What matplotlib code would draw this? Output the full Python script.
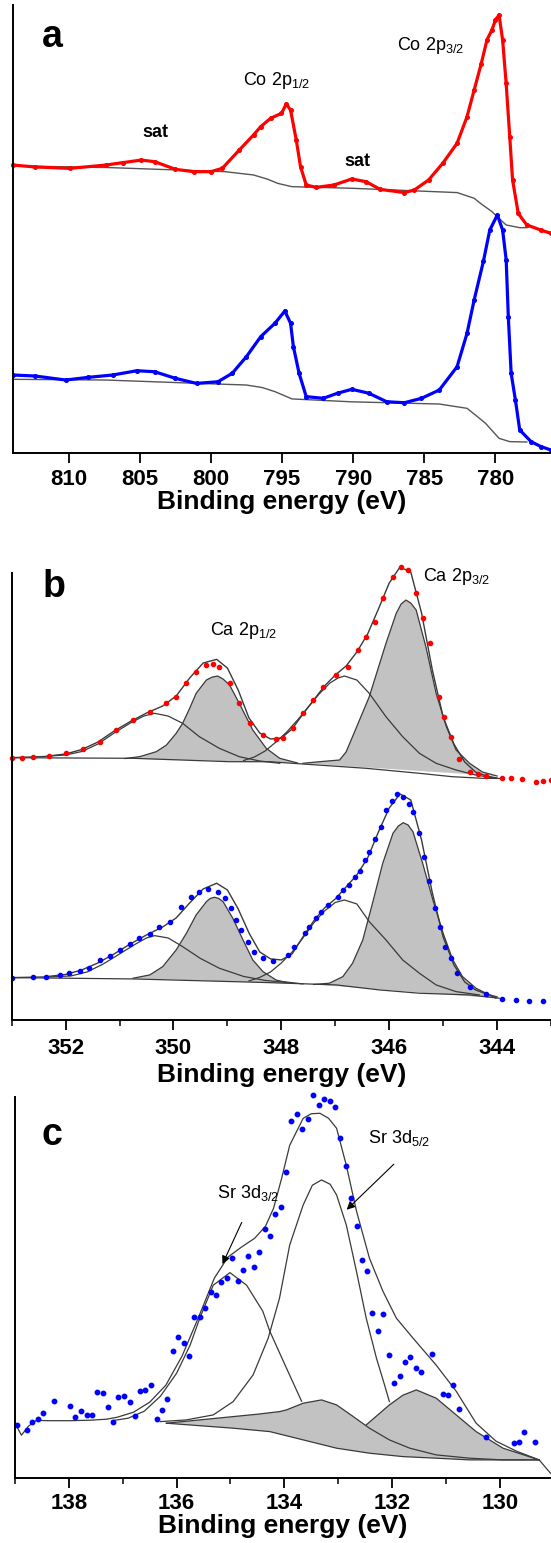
import matplotlib
matplotlib.use('Agg')
import matplotlib.pyplot as plt
from matplotlib.ticker import MultipleLocator
import numpy as np

plt.rcParams['font.family'] = ['Liberation Sans', 'DejaVu Sans']
plt.rcParams['mathtext.fontset'] = 'custom'
plt.rcParams['mathtext.rm'] = 'Liberation Sans'
plt.rcParams['mathtext.it'] = 'Liberation Sans:italic'
plt.rcParams['mathtext.bf'] = 'Liberation Sans:bold'

# ---------------- panel a : Co 2p (intensity in arbitrary units) ----------------
co_red_be = [813.9, 812.35, 809.9, 807.4, 806.2, 804.9, 803.95, 802.5, 801.2, 800.0,
             799.2, 798.0, 797.0, 796.5, 795.8, 795.04, 794.7, 794.4, 794.0, 793.7,
             793.3, 792.6, 791.35, 790.1, 789.1, 788.1, 786.4, 785.7, 784.7, 783.7,
             782.7, 782.0, 781.5, 781.0, 780.6, 780.25, 780.0, 779.75, 779.5, 779.25,
             779.0, 778.8, 778.4, 777.8, 776.8, 776.1]
co_red_int = [288.2, 286.3, 284.9, 288.2, 290.6, 293.2, 291.6, 284.0, 281.6, 281.6,
              284.9, 303.3, 318.3, 326.6, 335.0, 339.9, 349.3, 343.2, 313.3, 286.6,
              268.3, 265.9, 268.3, 274.3, 271.6, 263.9, 260.7, 263.3, 273.3, 290.1,
              310.0, 336.6, 363.2, 389.7, 413.3, 423.3, 433.4, 438.3, 413.3, 369.8,
              316.7, 273.3, 239.8, 228.3, 223.2, 219.9]
co_red_bg_be = [813.9, 807.2, 799.0, 797.0, 796.0, 795.3, 794.3, 790.1, 782.7, 781.5,
                781.0, 780.25, 779.7, 779.25, 778.3, 777.8]
co_red_bg_int = [287.3, 285.7, 281.6, 278.3, 274.0, 269.9, 266.6, 265.0, 260.7, 255.0,
                 249.3, 241.7, 234.1, 228.3, 225.6, 225.6]

co_blue_be = [813.9, 812.35, 810.2, 808.6, 806.9, 805.2, 803.95, 802.5, 801.0, 799.5,
              798.5, 797.5, 796.5, 795.5, 794.8, 794.4, 794.2, 793.8, 793.3, 792.1,
              791.1, 790.1, 788.9, 787.65, 786.4, 785.2, 783.95, 782.7, 782.0, 781.5,
              780.85, 780.4, 779.87, 779.5, 779.25, 779.1, 778.9, 778.6, 778.3, 777.5,
              776.8, 776.1]
co_blue_int = [78.3, 77.3, 73.3, 76.0, 78.3, 82.6, 81.6, 75.0, 69.9, 71.6,
               80.0, 96.7, 116.6, 130.0, 142.3, 130.0, 106.6, 80.0, 56.7, 55.0,
               60.1, 64.0, 60.1, 51.6, 50.6, 55.0, 63.3, 86.6, 120.0, 153.3,
               192.0, 223.3, 238.3, 223.3, 193.4, 136.6, 80.0, 53.3, 23.4, 11.7,
               6.7, 3.3]
co_blue_bg_be = [813.9, 807.4, 800.8, 797.5, 796.4, 795.5, 794.3, 790.1, 783.95, 782.0,
                 781.4, 780.7, 779.75, 779.0, 777.8]
co_blue_bg_int = [74.0, 73.3, 69.9, 68.3, 65.8, 61.7, 54.4, 51.5, 49.3, 45.0,
                  38.2, 30.0, 15.0, 11.7, 11.3]

# ---------------- panel b : Ca 2p ----------------
ca_red_be = [353.0, 352.8, 352.6, 352.3, 351.99, 351.68, 351.37, 351.06, 350.75, 350.44,
             350.13, 349.95, 349.76, 349.58, 349.39, 349.27, 349.15, 348.96, 348.78, 348.59,
             348.34, 348.1, 347.97, 347.79, 347.6, 347.42, 347.23, 346.98, 346.77, 346.58,
             346.43, 346.27, 346.12, 345.93, 345.78, 345.66, 345.5, 345.38, 345.25, 345.07,
             344.98, 344.85, 344.7, 344.51, 344.35, 344.2, 343.9, 343.75, 343.53, 343.28,
             343.15, 343.0]
ca_red_int = [262.3, 262.5, 263, 264, 266.7, 271, 278.3, 290, 300, 308.3,
              316.7, 323.3, 336.7, 348.3, 355, 356, 352.7, 336.7, 316.7, 296.7,
              285, 281, 282.3, 291.7, 306.7, 320, 333.3, 345, 353.3, 370,
              383.3, 398.3, 421.7, 443.3, 452.7, 450, 426.7, 401.7, 376.7, 323.3,
              303.3, 283.3, 261, 248.3, 246, 244, 241.7, 241.5, 241, 238.3,
              239, 240]
ca_red_env_be = [353.0, 352.4, 352.0, 351.7, 351.4, 351.1, 350.8, 350.5, 350.2, 349.95,
                 349.7, 349.45, 349.2, 349.0, 348.8, 348.6, 348.4, 348.2, 348.0, 347.8,
                 347.6, 347.4, 347.2, 347.0, 346.8, 346.6, 346.4, 346.2, 346.0, 345.8,
                 345.6, 345.4, 345.2, 345.0, 344.8, 344.6, 344.4, 344.2, 344.0]
ca_red_env_int = [262.3, 263.5, 266, 270.5, 278, 289, 298.5, 307, 314, 324,
                  342, 357, 360.7, 352, 330, 302, 287, 281, 282, 291,
                  306, 320, 334, 345, 354, 368, 386, 411, 437, 453,
                  448, 407, 350, 303, 276, 258, 248, 244, 242]
ca_red_bg_be = [353.0, 350.75, 348.96, 348.22, 347.6, 346.43, 345.44, 344.83, 344.27, 343.9]
ca_red_bg_int = [262.3, 261.7, 258.3, 258.3, 256, 251.7, 246.7, 243.3, 241.7, 241.5]
ca_red_p1_be = [352.3, 352.0, 351.7, 351.4, 351.1, 350.8, 350.55, 350.35, 350.1, 349.83,
                349.52, 349.15, 348.78, 348.4, 348.03]
ca_red_p1_int = [264, 265, 268.5, 276, 287, 297, 304, 306.7, 304, 296.7,
                 283.3, 271.7, 263.3, 259, 256.7]
ca_red_p2_be = [350.9, 350.63, 350.32, 350.13, 349.95, 349.83, 349.7, 349.58, 349.39, 349.28,
                349.18, 349.08, 348.96, 348.78, 348.53, 348.28, 348.03, 347.7]
ca_red_p2_int = [261.5, 263.3, 268.3, 275, 286.7, 296.7, 311.7, 326.7, 340, 343,
                 344, 341, 335, 316.7, 290, 271.7, 261.7, 257]
ca_red_p3_be = [348.7, 348.5, 348.3, 348.1, 347.9, 347.7, 347.5, 347.3, 347.1, 346.95,
                346.83, 346.6, 346.37, 346.06, 345.75, 345.44, 345.13, 344.76, 344.4, 344.1]
ca_red_p3_int = [259.5, 263, 269, 278, 288, 300, 313, 326, 337, 342,
                 344, 340, 326.7, 303.3, 283.3, 266.7, 256.7, 250, 245, 242.5]
ca_red_p4_be = [347.6, 347.29, 346.92, 346.8, 346.68, 346.37, 346.06, 345.87, 345.78, 345.69,
                345.6, 345.5, 345.32, 345.13, 344.94, 344.76, 344.51, 344.27, 344.0]
ca_red_p4_int = [256.7, 258.3, 260, 268, 283.3, 323.3, 376.7, 406.7, 416, 420,
                 417, 410, 373.3, 326.7, 293.3, 270, 256.7, 248, 244]

ca_blue_be = [353.0, 352.6, 352.36, 352.11, 351.93, 351.74, 351.56, 351.37, 351.18, 351.0,
              350.81, 350.63, 350.44, 350.26, 350.07, 349.86, 349.67, 349.52, 349.36, 349.18,
              349.05, 348.93, 348.84, 348.74, 348.62, 348.5, 348.34, 348.16, 347.88, 347.76,
              347.57, 347.48, 347.35, 347.26, 347.14, 346.95, 346.86, 346.75, 346.64, 346.55,
              346.45, 346.37, 346.26, 346.15, 346.06, 345.95, 345.85, 345.75, 345.64, 345.55,
              345.45, 345.36, 345.27, 345.16, 345.06, 344.96, 344.85, 344.75, 344.51, 344.2,
              343.9, 343.65, 343.4, 343.15]
ca_blue_int = [42.3, 42.7, 43.3, 44.7, 46.7, 49.3, 51.7, 60, 64.3, 70,
               76, 81.7, 86, 93.3, 98.3, 112.7, 123.3, 128.3, 131.3, 128.3,
               121.7, 111.7, 100, 90, 78.3, 68.3, 62.3, 59.3, 65, 73.3,
               86.7, 93.3, 101.7, 108.3, 115, 123.3, 130, 135, 142.7, 149.3,
               160, 168.3, 180.7, 193.3, 210, 219.3, 225.7, 223.3, 216, 208.3,
               186.7, 163.3, 139, 111.7, 92.7, 73.3, 61.7, 47.3, 33.3, 26,
               20.7, 20, 19.3, 19.3]
ca_blue_env_be = [353.0, 352.4, 352.0, 351.7, 351.4, 351.1, 350.8, 350.5, 350.2, 349.95,
                  349.7, 349.45, 349.2, 349.0, 348.8, 348.6, 348.4, 348.2, 348.0, 347.8,
                  347.6, 347.4, 347.2, 347.0, 346.8, 346.6, 346.4, 346.2, 346.0, 345.8,
                  345.6, 345.4, 345.2, 345.0, 344.8, 344.6, 344.4, 344.2, 344.0]
ca_blue_env_int = [42.3, 43, 45.5, 50, 57, 66, 76, 85, 93, 102,
                   117, 131, 136.7, 130, 111, 87, 68, 61, 60, 66,
                   83, 99, 112, 121, 133, 145, 162, 188, 212, 226,
                   220, 180, 127, 83, 55, 38, 30, 26, 23]
ca_blue_bg_be = [353.0, 350.75, 348.9, 348.22, 346.98, 346.18, 345.44, 344.51, 343.96]
ca_blue_bg_int = [42.3, 41, 38.3, 37.3, 35, 30, 26.7, 25, 21.7]
ca_blue_p1_be = [352.3, 351.9, 351.6, 351.3, 351.0, 350.7, 350.5, 350.35, 350.1, 349.85,
                 349.5, 349.15, 348.7, 348.3, 347.9]
ca_blue_p1_int = [43, 44, 48, 56, 66, 76, 82, 84.3, 82, 74,
                  61.5, 51.7, 43.5, 39.5, 37.5]
ca_blue_p2_be = [350.75, 350.44, 350.2, 349.95, 349.76, 349.58, 349.39, 349.32, 349.24, 349.16,
                 349.08, 348.9, 348.71, 348.53, 348.34, 348.1, 347.97, 347.6]
ca_blue_p2_int = [41.7, 45, 53.3, 70, 86.7, 105, 118.3, 121.5, 122.7, 121.5,
                  118.3, 101.7, 80, 60, 48.3, 40, 38.3, 36]
ca_blue_p3_be = [348.6, 348.4, 348.2, 348.0, 347.8, 347.6, 347.4, 347.2, 347.0, 346.83,
                 346.6, 346.37, 346.06, 345.75, 345.44, 345.13, 344.76, 344.33]
ca_blue_p3_int = [39, 42.5, 48, 57, 68, 82, 97, 109, 117.5, 120,
                  116, 98.3, 80, 60, 46.7, 35, 28.3, 25]
ca_blue_p4_be = [347.4, 347.11, 346.86, 346.68, 346.49, 346.31, 346.12, 345.93, 345.83, 345.74,
                 345.65, 345.56, 345.38, 345.19, 345.0, 344.82, 344.64, 344.39, 344.02]
ca_blue_p4_int = [35.5, 36.7, 43.3, 56.7, 80, 116.7, 156.7, 186.7, 194, 197.3,
                  195, 188.3, 156.7, 120, 86.7, 60, 43.3, 31.7, 21.7]

# ---------------- panel c : Sr 3d ----------------
sr_be = [138.96, 138.78, 138.68, 138.58, 138.48, 138.28, 137.98, 137.88, 137.78, 137.67,
         137.57, 137.47, 137.37, 137.28, 137.18, 137.08, 136.98, 136.87, 136.78, 136.68,
         136.58, 136.47, 136.37, 136.27, 136.17, 136.07, 135.97, 135.87, 135.77, 135.68,
         135.57, 135.48, 135.37, 135.27, 135.17, 135.07, 134.97, 134.86, 134.77, 134.67,
         134.57, 134.47, 134.36, 134.27, 134.17, 134.07, 133.96, 133.87, 133.76, 133.67,
         133.57, 133.47, 133.36, 133.26, 133.16, 133.06, 132.97, 132.86, 132.76, 132.66,
         132.56, 132.47, 132.37, 132.26, 132.16, 132.06, 131.96, 131.86, 131.76, 131.66,
         131.56, 131.46, 131.26, 131.06, 130.96, 130.86, 130.76, 130.25, 129.74, 129.65,
         129.55, 129.35]
sr_int = [53.3, 48.3, 56, 59.3, 65.3, 77.6, 72.6, 61.3, 67.6, 63.6,
          63.6, 86.6, 85.6, 71.3, 56.6, 81.6, 82.6, 76.3, 62.6, 87.3,
          88, 93.3, 59.3, 68, 79.6, 127.6, 141, 135, 122.6, 161,
          161, 170, 186, 183.3, 196.6, 200.6, 220, 197.3, 208, 222,
          211.6, 226.6, 249.3, 242.3, 264, 271.6, 306, 357.3, 364.3, 349.6,
          359, 383.3, 373.3, 379.3, 377.6, 371.6, 340.6, 312.6, 280, 252.3,
          218.3, 207.6, 165.3, 147.3, 164.6, 123.3, 95, 102.3, 116, 121.6,
          110.6, 106, 124.6, 84.6, 83, 93.3, 69.6, 41.6, 35.6, 36.6,
          46.3, 36.6]
sr_env_be = [139.0, 138.88, 138.75, 138.6, 138.4, 138.0, 137.6, 137.3, 137.1, 136.8,
             136.5, 136.2, 135.9, 135.6, 135.3, 135.05, 134.8, 134.55, 134.35, 134.2,
             134.05, 133.9, 133.65, 133.5, 133.34, 133.18, 133.03, 132.85, 132.66, 132.42,
             132.17, 131.92, 131.61, 131.18, 130.81, 130.44, 130.07, 129.69, 129.27, 129.06]
sr_env_int = [55, 43, 52, 58, 57.5, 57.5, 58, 59, 61, 66,
              76, 93, 122, 160, 200, 221, 231, 240, 252, 270,
              300, 333, 360, 364.5, 365, 360, 350, 313, 267, 220,
              187, 160, 140, 113, 87, 55, 37, 27, 18.3, 5]
sr_d32_be = [137.2, 136.9, 136.6, 136.3, 136.0, 135.75, 135.57, 135.32, 135.01, 134.7,
             134.4, 134.27, 133.96, 133.68]
sr_d32_int = [57.5, 60, 67, 82, 105, 133, 160, 193, 205.6, 193,
              167, 147, 110, 77]
sr_d52_be = [136.3, 135.82, 135.32, 134.95, 134.58, 134.3, 134.09, 133.9, 133.65, 133.48,
             133.31, 133.15, 133.03, 132.85, 132.66, 132.48, 132.29, 132.14, 132.05]
sr_d52_int = [56.6, 58.3, 63.3, 76.6, 103.3, 140, 180, 233.3, 273.3, 293,
              298.3, 294, 283.3, 253.3, 206.6, 160, 120, 93.3, 76.6]
sr_h1_be = [136.19, 135.57, 134.95, 134.5, 134.09, 133.96, 133.65, 133.31, 133.03, 132.72,
            132.42, 132.05, 131.67, 131.18, 130.56, 129.94, 129.27]
sr_h1_int = [55, 58.3, 61.6, 64, 66.6, 68.3, 75, 78.3, 73.3, 61.6,
             50, 38.3, 30, 23.3, 20, 18.3, 18.3]
sr_h2_be = [132.48, 132.05, 131.8, 131.55, 131.18, 130.81, 130.44, 129.94, 129.27]
sr_h2_int = [53.3, 73.3, 83, 88.3, 80, 63.3, 46.6, 30, 18.3]
sr_bg_be = [136.19, 134.95, 134.27, 133.65, 133.03, 132.42, 131.8, 131.18, 130.56, 129.27]
sr_bg_int = [55, 50, 46.6, 38.3, 30, 25, 21.6, 20, 18.3, 18.3]

line_col = '#3a3a3a'
shade_col = '#c2c2c2'

fig = plt.figure(figsize=(5.51, 15.43), dpi=100)


def style_axis(ax, major, minor=None, lpad=1, tpad=4):
    for s in ['top', 'right']:
        ax.spines[s].set_visible(False)
    for s in ['left', 'bottom']:
        ax.spines[s].set_linewidth(1.4)
    ax.set_yticks([])
    ax.xaxis.set_major_locator(MultipleLocator(major))
    if minor:
        ax.xaxis.set_minor_locator(MultipleLocator(minor))
    ax.tick_params(axis='x', which='major', direction='out', length=7, width=1.3,
                   labelsize=16, pad=tpad)
    ax.tick_params(axis='x', which='minor', direction='out', length=4.5, width=1.1)
    for lab in ax.get_xticklabels():
        lab.set_fontweight('bold')
    ax.set_xlabel('Binding energy (eV)', fontsize=19, fontweight='bold', labelpad=lpad)


# ---- a ----
ax1 = fig.add_axes([0.0229, 0.7062, 0.9771, 0.2906])
ax1.plot(co_red_bg_be, co_red_bg_int, color='#555555', lw=1.0)
ax1.plot(co_blue_bg_be, co_blue_bg_int, color='#555555', lw=1.0)
ax1.plot(co_red_be, co_red_int, color='red', lw=2.3, marker='o', ms=2.6, clip_on=False)
ax1.plot(co_blue_be, co_blue_int, color='blue', lw=2.3, marker='o', ms=2.6)
ax1.set_xlim(813.93, 776.1)
ax1.set_ylim(0, 448.3)
style_axis(ax1, 5, lpad=0)
ax1.text(811.9, 406.6, 'a', fontsize=27, fontweight='bold')
ax1.text(786.9, 403.3, r'Co 2p$_{\mathrm{3/2}}$', fontsize=13)
ax1.text(797.77, 368.3, r'Co 2p$_{\mathrm{1/2}}$', fontsize=13)
ax1.text(804.8, 316, 'sat', fontsize=13, fontweight='bold')
ax1.text(790.6, 287.6, 'sat', fontsize=13, fontweight='bold')

# ---- b ----
ax2 = fig.add_axes([0.0212, 0.3390, 0.9788, 0.2898])
for be, it in [(ca_red_p2_be, ca_red_p2_int), (ca_red_p4_be, ca_red_p4_int),
               (ca_blue_p2_be, ca_blue_p2_int), (ca_blue_p4_be, ca_blue_p4_int)]:
    ax2.fill(be, it, color=shade_col, lw=0)
for be, it in [(ca_red_p1_be, ca_red_p1_int), (ca_red_p2_be, ca_red_p2_int),
               (ca_red_p3_be, ca_red_p3_int), (ca_red_p4_be, ca_red_p4_int),
               (ca_blue_p1_be, ca_blue_p1_int), (ca_blue_p2_be, ca_blue_p2_int),
               (ca_blue_p3_be, ca_blue_p3_int), (ca_blue_p4_be, ca_blue_p4_int),
               (ca_red_bg_be, ca_red_bg_int), (ca_blue_bg_be, ca_blue_bg_int)]:
    ax2.plot(be, it, color=line_col, lw=0.9)
ax2.plot(ca_red_env_be, ca_red_env_int, color=line_col, lw=1.0, clip_on=False)
ax2.plot(ca_blue_env_be, ca_blue_env_int, color=line_col, lw=1.0)
ax2.plot(ca_red_be, ca_red_int, 'o', color='red', ms=3.0, clip_on=False)
ax2.plot(ca_blue_be, ca_blue_int, 'o', color='blue', ms=3.0)
ax2.set_xlim(353.0, 343.0)
ax2.set_ylim(0, 447.3)
style_axis(ax2, 2, 1, lpad=3, tpad=6)
ax2.text(352.43, 422.7, 'b', fontsize=27, fontweight='bold')
ax2.text(349.33, 385, r'Ca 2p$_{\mathrm{1/2}}$', fontsize=13)
ax2.text(345.38, 439.3, r'Ca 2p$_{\mathrm{3/2}}$', fontsize=13)

# ---- c ----
ax3 = fig.add_axes([0.0272, 0.0420, 0.9728, 0.2472])
poly1_be = np.r_[sr_h1_be, sr_bg_be[::-1]]
poly1_int = np.r_[sr_h1_int, sr_bg_int[::-1]]
ax3.fill(poly1_be, poly1_int, color=shade_col, lw=0)
poly2_be = np.r_[sr_h2_be, sr_h1_be[-1:-8:-1]]
poly2_int = np.r_[sr_h2_int, sr_h1_int[-1:-8:-1]]
ax3.fill(poly2_be, poly2_int, color=shade_col, lw=0)
for be, it in [(sr_h1_be, sr_h1_int), (sr_h2_be, sr_h2_int), (sr_bg_be, sr_bg_int),
               (sr_d32_be, sr_d32_int), (sr_d52_be, sr_d52_int),
               (sr_env_be, sr_env_int)]:
    ax3.plot(be, it, color=line_col, lw=0.9)
ax3.plot(sr_be, sr_int, 'o', color='blue', ms=3.2, clip_on=False)
ax3.set_xlim(139.0, 129.05)
ax3.set_ylim(0, 381.5)
style_axis(ax3, 2, 1, lpad=0)
ax3.text(138.5, 333.3, 'c', fontsize=27, fontweight='bold')
ax3.text(135.25, 280, r'Sr 3d$_{\mathrm{3/2}}$', fontsize=13)
ax3.text(132.45, 335, r'Sr 3d$_{\mathrm{5/2}}$', fontsize=13)
ax3.annotate('', xy=(135.17, 211.6), xytext=(134.77, 258.3),
             arrowprops=dict(arrowstyle='-|>', color='black', lw=0.8,
                             mutation_scale=12))
ax3.annotate('', xy=(132.88, 266.6), xytext=(131.93, 316),
             arrowprops=dict(arrowstyle='-|>', color='black', lw=0.8,
                             mutation_scale=12))

fig.savefig('out.png', dpi=100)
